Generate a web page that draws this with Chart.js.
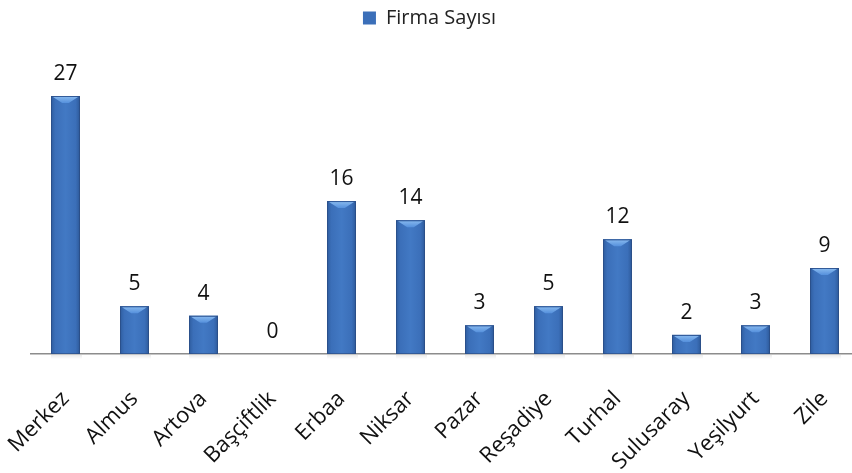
<!DOCTYPE html>
<html>
<head>
<meta charset="utf-8">
<script src="https://cdn.jsdelivr.net/npm/chart.js@4"></script>
<style>
  html, body { margin: 0; padding: 0; background: #fff; overflow: hidden; }
  body { width: 852px; height: 473px; }
  canvas { display: block; }
</style>
</head>
<body>
<canvas id="chart" width="859" height="473"></canvas>
<script>
const categories = ["Merkez", "Almus", "Artova", "Başçiftlik", "Erbaa", "Niksar", "Pazar", "Reşadiye", "Turhal", "Sulusaray", "Yeşilyurt", "Zile"];
const firmaSayisi = [27, 5, 4, 0, 16, 14, 3, 5, 12, 2, 3, 9];
const seriesName = "Firma Sayısı";

const FONT = "'Open Sans', sans-serif";

// bevel look on top of the plain bars
const bevelBars = {
    id: "bevelBars",
    afterDatasetsDraw(chart) {
        const ctx = chart.ctx;
        chart.getDatasetMeta(0).data.forEach(bar => {
            const h = bar.base - bar.y;
            if (h <= 0) return;
            const l = bar.x - bar.width / 2, r = bar.x + bar.width / 2;
            ctx.save();
            // soft shadow under the bar
            const sg = ctx.createLinearGradient(0, bar.base, 0, bar.base + 5);
            sg.addColorStop(0, "rgba(0,0,0,0.10)");
            sg.addColorStop(1, "rgba(0,0,0,0)");
            ctx.fillStyle = sg;
            ctx.fillRect(l, bar.base + 1, bar.width + 2, 5);
            const g = ctx.createLinearGradient(l, 0, r, 0);
            g.addColorStop(0, "#2f5d9f");
            g.addColorStop(0.15, "#3b6fb9");
            g.addColorStop(0.5, "#4279c4");
            g.addColorStop(0.85, "#3b6fb9");
            g.addColorStop(1, "#2e5a9a");
            ctx.fillStyle = g;
            ctx.fillRect(l, bar.y, bar.width, h);
            // top bevel
            const b = Math.min(7, h / 2);
            ctx.beginPath();
            ctx.moveTo(l + 2, bar.y + 1);
            ctx.lineTo(r - 2, bar.y + 1);
            ctx.lineTo(r - b * 1.6, bar.y + b);
            ctx.lineTo(l + b * 1.6, bar.y + b);
            ctx.closePath();
            const tg = ctx.createLinearGradient(0, bar.y, 0, bar.y + b);
            tg.addColorStop(0, "#8bbcf0");
            tg.addColorStop(1, "#5590dc");
            ctx.fillStyle = tg;
            ctx.fill();
            ctx.strokeStyle = "rgba(40,70,120,0.55)";
            ctx.lineWidth = 1;
            ctx.strokeRect(l + 0.5, bar.y + 0.5, bar.width - 1, h - 1);
            ctx.restore();
        });
    }
};

const valueLabels = {
    id: "valueLabels",
    afterDatasetsDraw(chart) {
        const ctx = chart.ctx;
        ctx.save();
        ctx.font = "21px " + FONT;
        ctx.fillStyle = "#111";
        ctx.textAlign = "center";
        ctx.textBaseline = "alphabetic";
        chart.getDatasetMeta(0).data.forEach((bar, i) => {
            ctx.fillText(String(firmaSayisi[i]), bar.x, bar.y - 16);
        });
        ctx.restore();
    }
};

const legendHeight = {
    id: "legendHeight",
    beforeInit(chart) {
        const fit = chart.legend.fit;
        chart.legend.fit = function () {
            fit.bind(chart.legend)();
            this.height = 96;
        };
    }
};

new Chart(document.getElementById("chart"), {
    type: "bar",
    data: {
        labels: categories,
        datasets: [{
            label: seriesName,
            data: firmaSayisi,
            backgroundColor: "#3b6fb9",
            borderColor: "#2e5a9a",
            borderWidth: 0,
            categoryPercentage: 1,
            barPercentage: 0.42
        }]
    },
    options: {
        responsive: false,
        animation: false,
        layout: { padding: 0 },
        scales: {
            x: {
                grid: { display: false },
                border: { display: true, color: "#8c8c8c", width: 1.5 },
                ticks: {
                    color: "#111",
                    font: { family: FONT, size: 22 },
                    minRotation: 45,
                    maxRotation: 45,
                    padding: 24
                },
                afterFit: s => { s.height = 119; s.paddingLeft = 0; s.paddingRight = 0; }
            },
            y: {
                display: true,
                min: 0,
                max: 27,
                grid: { display: false },
                border: { display: false },
                ticks: { display: false },
                afterFit: s => { s.width = 31; }
            }
        },
        plugins: {
            legend: {
                position: "top",
                labels: {
                    color: "#222",
                    font: { family: FONT, size: 20 },
                    boxWidth: 13,
                    boxHeight: 13,
                    padding: 8
                }
            },
            tooltip: { enabled: false }
        }
    },
    plugins: [bevelBars, valueLabels, legendHeight]
});
</script>
</body>
</html>
